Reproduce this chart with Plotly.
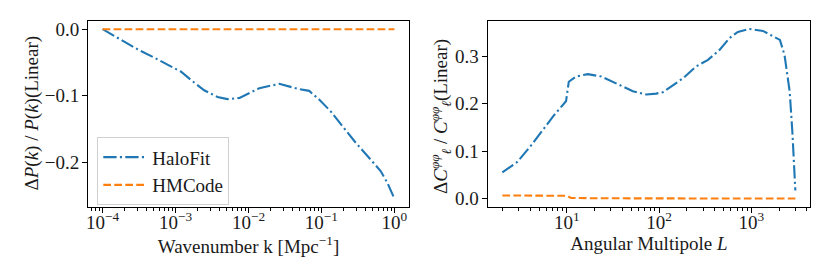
import plotly.graph_objects as go

# ---- Left panel data: matter power spectrum ratio ----
k_halofit = [1e-4, 1.79e-4, 3.03e-4, 5.13e-4, 8.65e-4, 1.19e-3, 1.62e-3, 2.47e-3,
             3.76e-3, 5.15e-3, 7.52e-3, 1.41e-2, 2.64e-2, 4.95e-2, 6.79e-2, 9.31e-2,
             0.134, 0.194, 0.295, 0.449, 0.647, 0.798, 0.955, 1.0]
dpk_halofit = [0.0, -0.0165, -0.0304, -0.043, -0.0554, -0.064, -0.0763, -0.092,
               -0.102, -0.1053, -0.1035, -0.0888, -0.0823, -0.0903, -0.0928, -0.106,
               -0.1238, -0.146, -0.171, -0.1936, -0.2136, -0.231, -0.251, -0.255]
k_hmcode = [1e-4, 1e-3, 1e-2, 1e-1, 1.0]
dpk_hmcode = [0.0, 0.0, 0.0, 0.0, 0.0]

# ---- Right panel data: lensing potential ratio ----
L_halofit = [2, 2.9, 4.1, 5.5, 7.3, 9.8, 10.5, 12.6, 16.9, 23.6, 37.3, 52, 73, 93,
             110, 181, 251, 339, 452, 581, 714, 955, 1337, 2042, 2291, 2606, 2786,
             2884, 3000]
dcl_halofit = [0.055, 0.077, 0.112, 0.144, 0.176, 0.205, 0.246, 0.257, 0.262, 0.257,
               0.239, 0.226, 0.219, 0.221, 0.224, 0.253, 0.278, 0.292, 0.313, 0.338,
               0.351, 0.357, 0.353, 0.334, 0.302, 0.225, 0.14, 0.07, 0.017]
L_hmcode = [2, 5, 9, 10, 11.1, 13, 20, 100, 1000, 3000]
dcl_hmcode = [0.0065, 0.0066, 0.0065, 0.0058, 0.0012, 0.0008, 0.0006, 0.0003, 0.0001, 0.0]

# ---- Tick labels ----
k_tickvals = [1e-4, 1e-3, 1e-2, 1e-1, 1e0]
k_ticktext = ["10<sup>−4</sup>", "10<sup>−3</sup>", "10<sup>−2</sup>", "10<sup>−1</sup>", "10<sup>0</sup>"]
L_tickvals = [10, 100, 1000]
L_ticktext = ["10<sup>1</sup>", "10<sup>2</sup>", "10<sup>3</sup>"]
p_tickvals = [0.0, -0.1, -0.2]
c_tickvals = [0.0, 0.1, 0.2, 0.3]

BLUE = "#1f77b4"
ORANGE = "#ff7f0e"
DASHDOT = "13.3px,3.3px,2.1px,3.3px"
DASHED = "7.7px,3.3px"
FONT = "Liberation Serif"
FS = 19
TXT = "#1a1a1a"

W, H = 830, 277
fig = go.Figure()
fig.add_trace(go.Scatter(x=k_halofit, y=dpk_halofit, mode="lines", name="HaloFit",
                         line=dict(color=BLUE, width=2.1, dash=DASHDOT),
                         xaxis="x", yaxis="y"))
fig.add_trace(go.Scatter(x=k_hmcode, y=dpk_hmcode, mode="lines", name="HMCode",
                         line=dict(color=ORANGE, width=2.1, dash=DASHED),
                         xaxis="x", yaxis="y"))
fig.add_trace(go.Scatter(x=L_halofit, y=dcl_halofit, mode="lines", name="HaloFit",
                         line=dict(color=BLUE, width=2.1, dash=DASHDOT),
                         xaxis="x2", yaxis="y2", showlegend=False))
fig.add_trace(go.Scatter(x=L_hmcode, y=dcl_hmcode, mode="lines", name="HMCode",
                         line=dict(color=ORANGE, width=2.1, dash=DASHED),
                         xaxis="x2", yaxis="y2", showlegend=False))

common = dict(showline=True, linecolor="black", linewidth=1.1, mirror=True,
              ticks="outside", ticklen=5, tickwidth=1.1, tickcolor="black",
              showgrid=False, zeroline=False, automargin=False,
              tickfont=dict(family=FONT, size=FS, color=TXT))
minor = dict(ticks="outside", ticklen=2.8, tickwidth=0.8, tickcolor="black",
             dtick="D1", showgrid=False)

ydom = [1 - 207/H, 1 - 20.7/H]
fig.update_layout(
    width=W, height=H,
    margin=dict(l=0, r=0, t=0, b=0, autoexpand=False),
    paper_bgcolor="white", plot_bgcolor="white",
    font=dict(family=FONT, size=FS, color=TXT),
    xaxis=dict(domain=[88/W, 409/W], type="log", range=[-4.2, 0.2],
               tickvals=k_tickvals, ticktext=k_ticktext, minor=minor,
               ticklabelstandoff=-7,
               title=dict(text="Wavenumber k [Mpc<sup>−1</sup>]", standoff=2,
                          font=dict(family=FONT, size=FS, color=TXT)),
               anchor="y", **common),
    yaxis=dict(domain=ydom, range=[-0.2677, 0.0128],
               tickvals=p_tickvals, tickformat=".1f", ticklabelstandoff=-1,
               anchor="x", **common),
    xaxis2=dict(domain=[487.7/W, 810/W], type="log", range=[0.142, 3.636],
                tickvals=L_tickvals, ticktext=L_ticktext, minor=minor,
                ticklabelstandoff=-7,
                title=dict(text="Angular Multipole <i>L</i>", standoff=2,
                           font=dict(family=FONT, size=FS, color=TXT)),
                anchor="y2", **common),
    yaxis2=dict(domain=ydom, range=[-0.0178, 0.3745],
                tickvals=c_tickvals, tickformat=".1f", ticklabelstandoff=-1,
                anchor="x2", **common),
    legend=dict(x=97.3/W, y=1 - 137.3/H, xanchor="left", yanchor="top",
                bgcolor="rgba(255,255,255,0.8)", bordercolor="#d0d0d0", borderwidth=1,
                font=dict(family=FONT, size=FS, color=TXT),
                tracegroupgap=0, itemwidth=44),
    showlegend=True,
    annotations=[
        dict(text="Δ<i>P</i>(<i>k</i>) / <i>P</i>(<i>k</i>)(Linear)", textangle=-90,
             xref="paper", yref="paper", x=31/W, y=1 - 113.5/H,
             xanchor="center", yanchor="middle", showarrow=False,
             font=dict(family=FONT, size=FS, color=TXT)),
        dict(text="Δ<i>C</i><sup><i>φφ</i></sup><sub><i>ℓ</i></sub> / <i>C</i><sup><i>φφ</i></sup><sub><i>ℓ</i></sub>(Linear)",
             textangle=-90, xref="paper", yref="paper", x=440/W, y=1 - 117/H,
             xanchor="center", yanchor="middle", showarrow=False,
             font=dict(family=FONT, size=FS, color=TXT)),
    ],
)

fig.write_html("out.html", config={"displayModeBar": False},
               post_script="document.body.style.margin='0';")
